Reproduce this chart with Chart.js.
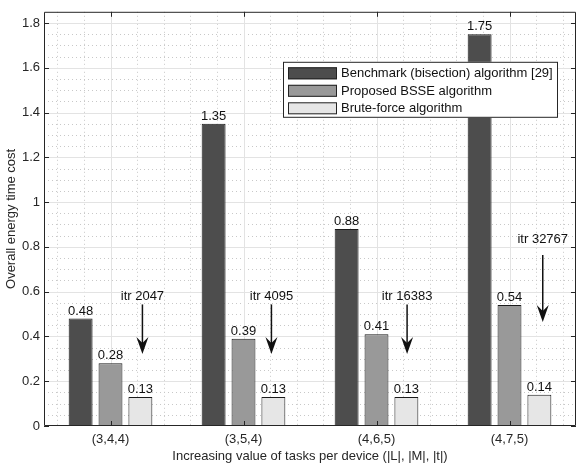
<!DOCTYPE html>
<html>
<head>
<meta charset="utf-8">
<script src="https://cdn.jsdelivr.net/npm/chart.js@4"></script>
<style>
  html, body { margin: 0; padding: 0; background: #fff; }
  #wrap { width: 576px; height: 465px; }
</style>
</head>
<body>
<div id="wrap"><canvas id="chart" width="576" height="465"></canvas></div>
<script>
// data
const categories = ['(3,4,4)', '(3,5,4)', '(4,6,5)', '(4,7,5)'];
const benchmark = [0.48, 1.35, 0.88, 1.75];
const bsse = [0.28, 0.39, 0.41, 0.54];
const bruteForce = [0.13, 0.13, 0.13, 0.14];
const seriesNames = ['Benchmark (bisection) algorithm [29]', 'Proposed BSSE algorithm', 'Brute-force algorithm'];
const yTicks = [0, 0.2, 0.4, 0.6, 0.8, 1, 1.2, 1.4, 1.6, 1.8];

// "itr" annotations (x as offset from category centre, y in data units)
const itrLabels = ['itr 2047', 'itr 4095', 'itr 16383', 'itr 32767'];
const itrOffset = [0.24, 0.21, 0.23, 0.25];
const itrTextY = [0.578, 0.578, 0.578, 0.834];
const itrArrowTop = [0.543, 0.543, 0.543, 0.764];
const itrArrowEnd = [0.322, 0.322, 0.322, 0.464];

const FONT = "'Liberation Sans', Arial, Helvetica, sans-serif";
const TEXT = '#262626';
const colors = ['#4d4d4d', '#999999', '#e6e6e6'];

const figurePlugin = {
    id: 'figure',
    beforeDatasetsDraw(chart) {
        const ctx = chart.ctx;
        const a = chart.chartArea;
        const x = chart.scales.x, y = chart.scales.y;
        const step = x.getPixelForValue(1) - x.getPixelForValue(0);
        ctx.save();
        // minor dotted grid
        ctx.strokeStyle = '#c8c8c8';
        ctx.lineWidth = 1;
        ctx.setLineDash([1, 3]);
        for (let v = 0.05; v < 1.85; v += 0.05) {
            const r = Math.round(v * 100);
            if (r % 20 === 0) continue;
            const py = Math.round(y.getPixelForValue(v)) + 0.5;
            ctx.beginPath(); ctx.moveTo(a.left, py); ctx.lineTo(a.right, py); ctx.stroke();
        }
        for (let i = -0.4; i <= categories.length; i += 0.2) {
            const k = Math.round(i * 5);
            if (k % 5 === 0) continue;
            const px = Math.round(x.getPixelForValue(0) + i * step) + 0.5;
            if (px <= a.left || px >= a.right) continue;
            ctx.beginPath(); ctx.moveTo(px, a.top); ctx.lineTo(px, a.bottom); ctx.stroke();
        }
        // major solid grid
        ctx.setLineDash([]);
        ctx.strokeStyle = '#e3e3e3';
        yTicks.forEach(v => {
            if (v === 0) return;
            const py = Math.round(y.getPixelForValue(v)) + 0.5;
            ctx.beginPath(); ctx.moveTo(a.left, py); ctx.lineTo(a.right, py); ctx.stroke();
        });
        categories.forEach((c, i) => {
            const px = Math.round(x.getPixelForValue(i)) + 0.5;
            ctx.beginPath(); ctx.moveTo(px, a.top); ctx.lineTo(px, a.bottom); ctx.stroke();
        });
        ctx.restore();
    },
    afterDatasetsDraw(chart) {
        const ctx = chart.ctx;
        const a = chart.chartArea;
        const x = chart.scales.x, y = chart.scales.y;
        const step = x.getPixelForValue(1) - x.getPixelForValue(0);
        ctx.save();

        // value labels above bars
        ctx.font = '13px ' + FONT;
        ctx.fillStyle = '#111';
        ctx.textAlign = 'center';
        ctx.textBaseline = 'bottom';
        chart.data.datasets.forEach((ds, di) => {
            chart.getDatasetMeta(di).data.forEach((bar, i) => {
                ctx.fillText(ds.data[i].toFixed(2), bar.x, bar.y - 1);
            });
        });

        // box and inward ticks
        ctx.strokeStyle = '#262626';
        ctx.lineWidth = 1;
        ctx.beginPath();
        ctx.moveTo(a.left + 0.5, a.top + 0.5);
        ctx.lineTo(a.right - 0.5, a.top + 0.5);
        ctx.lineTo(a.right - 0.5, a.bottom - 0.5);
        ctx.lineTo(a.left + 0.5, a.bottom - 0.5);
        ctx.closePath();
        ctx.stroke();
        yTicks.forEach(v => {
            const py = Math.round(y.getPixelForValue(v)) + 0.5;
            ctx.beginPath();
            ctx.moveTo(a.left, py); ctx.lineTo(a.left + 5, py);
            ctx.moveTo(a.right, py); ctx.lineTo(a.right - 5, py);
            ctx.stroke();
        });
        categories.forEach((c, i) => {
            const px = Math.round(x.getPixelForValue(i)) + 0.5;
            ctx.beginPath();
            ctx.moveTo(px, a.bottom); ctx.lineTo(px, a.bottom - 5);
            ctx.moveTo(px, a.top); ctx.lineTo(px, a.top + 5);
            ctx.stroke();
        });

        // itr arrows
        ctx.fillStyle = '#111';
        ctx.strokeStyle = '#111';
        itrLabels.forEach((lab, i) => {
            const px = x.getPixelForValue(i) + itrOffset[i] * step;
            ctx.textBaseline = 'middle';
            ctx.textAlign = 'center';
            ctx.fillText(lab, px, y.getPixelForValue(itrTextY[i]));
            const y0 = y.getPixelForValue(itrArrowTop[i]);
            const y1 = y.getPixelForValue(itrArrowEnd[i]);
            ctx.lineWidth = 1.5;
            ctx.beginPath(); ctx.moveTo(px, y0); ctx.lineTo(px, y1 - 8); ctx.stroke();
            ctx.beginPath();
            ctx.moveTo(px, y1);
            ctx.lineTo(px - 6, y1 - 17);
            ctx.lineTo(px, y1 - 11);
            ctx.lineTo(px + 6, y1 - 17);
            ctx.closePath();
            ctx.fill();
        });

        // legend box inside the axes
        const lw = 275, lh = 56;
        const lx = a.right - 18 - lw, ly = a.top + 50;
        ctx.fillStyle = '#fff';
        ctx.fillRect(lx, ly, lw, lh);
        ctx.strokeStyle = '#262626';
        ctx.lineWidth = 1;
        ctx.strokeRect(lx + 0.5, ly + 0.5, lw - 1, lh - 1);
        ctx.font = '13px ' + FONT;
        ctx.textAlign = 'left';
        ctx.textBaseline = 'middle';
        chart.data.datasets.forEach((ds, di) => {
            const cy = ly + 11.5 + di * 17.5;
            ctx.fillStyle = ds.backgroundColor;
            ctx.fillRect(lx + 5, cy - 6, 49, 12);
            ctx.strokeStyle = '#222';
            ctx.strokeRect(lx + 5.5, cy - 5.5, 48, 11);
            ctx.fillStyle = '#111';
            ctx.fillText(ds.label, lx + 58, cy + 0.5);
        });
        ctx.restore();
    }
};

new Chart(document.getElementById('chart'), {
    type: 'bar',
    data: {
        labels: categories,
        datasets: [
            { label: seriesNames[0], data: benchmark, backgroundColor: colors[0], borderColor: '#1a1a1a', borderWidth: 1 },
            { label: seriesNames[1], data: bsse, backgroundColor: colors[1], borderColor: '#1a1a1a', borderWidth: 1 },
            { label: seriesNames[2], data: bruteForce, backgroundColor: colors[2], borderColor: '#1a1a1a', borderWidth: 1 }
        ]
    },
    options: {
        responsive: false,
        animation: false,
        layout: { padding: { top: 7, right: 0, left: 0, bottom: 0 } },
        categoryPercentage: 0.674,
        barPercentage: 0.8,
        plugins: { legend: { display: false }, tooltip: { enabled: false } },
        scales: {
            x: {
                grid: { display: false, drawTicks: false },
                border: { display: false },
                ticks: { color: TEXT, font: { family: FONT, size: 13 }, padding: 6, maxRotation: 0 },
                title: {
                    display: true,
                    text: 'Increasing value of tasks per device (|L|, |M|, |t|)',
                    color: TEXT,
                    font: { family: FONT, size: 13 },
                    padding: { top: 0, bottom: 1 }
                },
                afterFit(scale) { scale.height = 39; }
            },
            y: {
                min: 0,
                max: 1.85,
                grid: { display: false, drawTicks: false },
                border: { display: false },
                afterBuildTicks(scale) { scale.ticks = yTicks.map(v => ({ value: v })); },
                ticks: {
                    color: TEXT,
                    font: { family: FONT, size: 13 },
                    padding: 4,
                    callback: v => String(v)
                },
                title: {
                    display: true,
                    text: 'Overall energy time cost',
                    color: TEXT,
                    font: { family: FONT, size: 13 },
                    padding: { top: 4, bottom: 0 }
                },
                afterFit(scale) { scale.width = 44; }
            }
        }
    },
    plugins: [figurePlugin]
});
</script>
</body>
</html>
